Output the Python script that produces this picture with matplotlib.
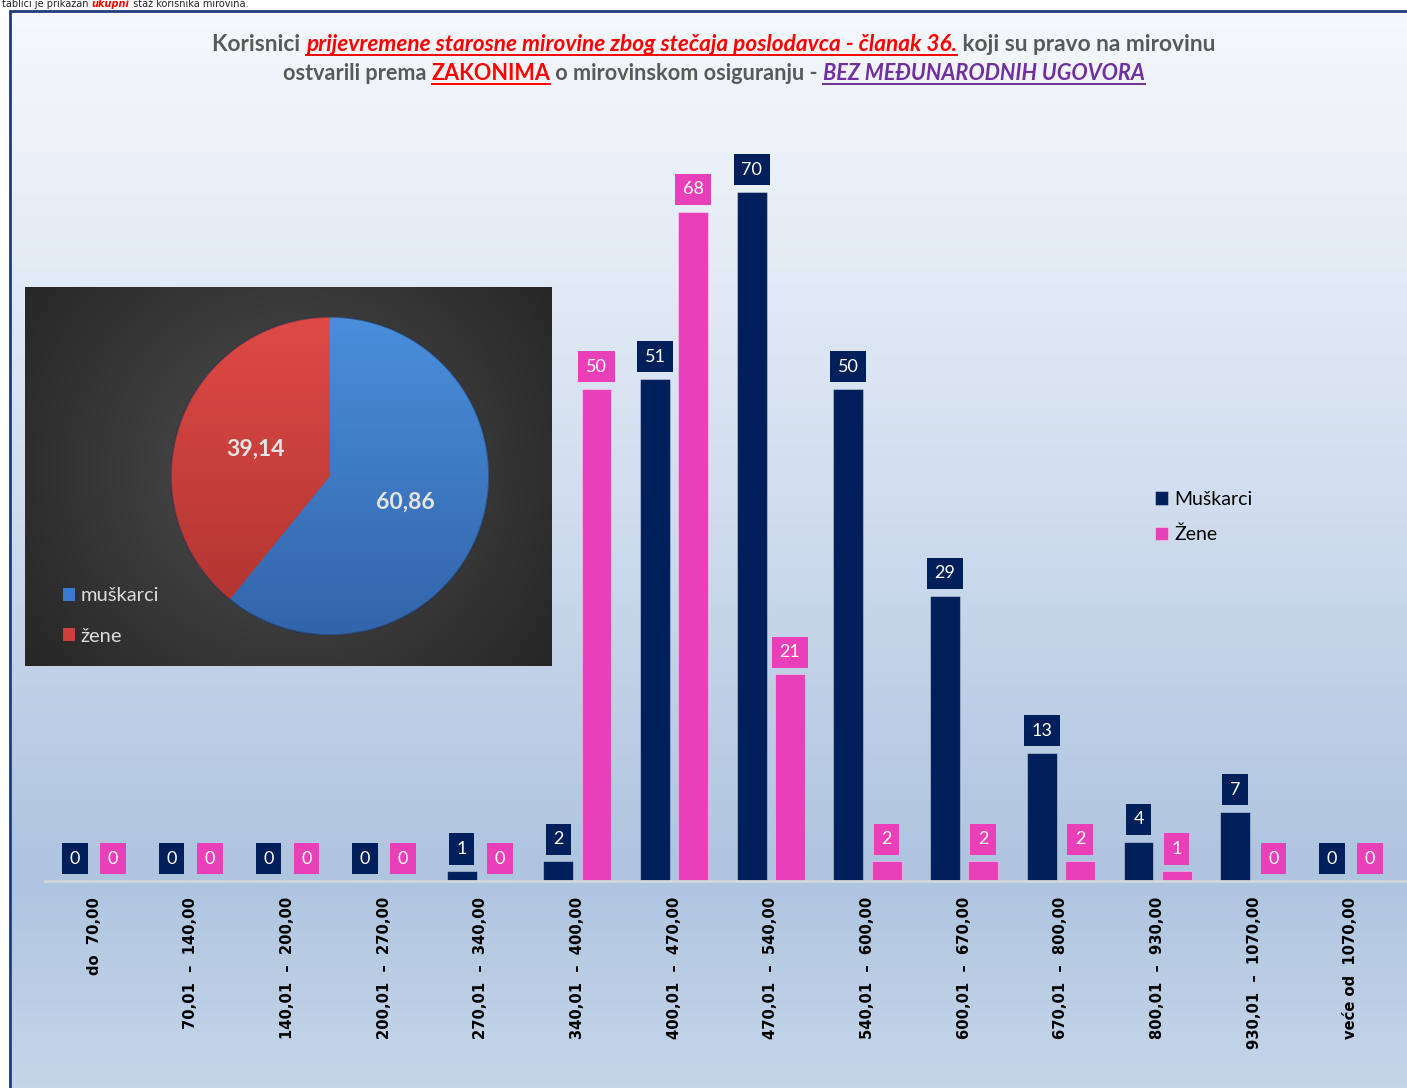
import numpy as np
import matplotlib
matplotlib.use('Agg')
import matplotlib.pyplot as plt
from matplotlib.patches import Rectangle, Circle
from matplotlib.colors import LinearSegmentedColormap
from matplotlib.lines import Line2D

# ---------------- data ----------------
categories = ["do  70,00", "70,01  –  140,00", "140,01  –  200,00", "200,01  –  270,00",
              "270,01  –  340,00", "340,01  –  400,00", "400,01  –  470,00", "470,01  –  540,00",
              "540,01  –  600,00", "600,01  –  670,00", "670,01  –  800,00", "800,01  –  930,00",
              "930,01  –  1070,00", "veće od  1070,00"]
muskarci = [0, 0, 0, 0, 1, 2, 51, 70, 50, 29, 13, 4, 7, 0]
zene = [0, 0, 0, 0, 0, 50, 68, 21, 2, 2, 2, 1, 0, 0]
series_names = ["Muškarci", "Žene"]
pie_labels = ["muškarci", "žene"]
pie_values = [60.86, 39.14]

W, H = 1407, 1088
fig = plt.figure(figsize=(W / 100, H / 100), dpi=100)
fig.patch.set_facecolor('white')


def fx(px):
    return px / W


def fy(py):
    return 1 - py / H


# ---------------- background panel ----------------
bg = fig.add_axes([fx(10), 0, 1 - fx(10), fy(11)], zorder=0)
bg_cmap = LinearSegmentedColormap.from_list(
    'bg', [(0, '#f5f8fc'), (0.12, '#edf2f9'), (0.45, '#d1deef'), (0.8, '#aec4df'), (1, '#c5d6ea')])
grad = np.linspace(0, 1, 256).reshape(-1, 1)
bg.imshow(grad, aspect='auto', cmap=bg_cmap, extent=[0, 1, 0, 1], origin='upper')
bg.set_axis_off()
fig.add_artist(Rectangle((fx(10), -0.1), 2, fy(11) + 0.1, transform=fig.transFigure,
                         fill=False, edgecolor='#1f3d7a', lw=2, zorder=1))

# ---------------- bar chart ----------------
ax = fig.add_axes([fx(45), fy(881), fx(1407) - fx(45), (881 - 93.6) / H], zorder=2)
ax.set_xlim(-0.507, 13.58)
ax.set_ylim(0, 80)
ax.patch.set_alpha(0)
x = np.arange(len(categories))
c_m, c_z = '#001f5b', '#e940b9'
b1 = ax.bar(x - 0.197, muskarci, 0.31, color=c_m, edgecolor=(1, 1, 1, 0.35), lw=0.8)
b2 = ax.bar(x + 0.197, zene, 0.31, color=c_z, edgecolor=(1, 1, 1, 0.35), lw=0.8)
for s in ['top', 'left', 'right']:
    ax.spines[s].set_visible(False)
ax.spines['bottom'].set_color('#d3d7de')
ax.spines['bottom'].set_linewidth(2)
ax.set_yticks([])
ax.set_xticks(x)
ax.set_xticklabels(categories, rotation=90, fontweight='bold', fontsize=10.6,
                   family='DejaVu Sans', color='black')
ax.tick_params(axis='x', length=0, pad=11.5)

for bars, vals, col in [(b1, muskarci, c_m), (b2, zene, c_z)]:
    for rect, v in zip(bars, vals):
        ax.annotate(str(v), (rect.get_x() + rect.get_width() / 2, v), xytext=(0, 16),
                    textcoords='offset points', ha='center', va='center', color='white',
                    fontsize=13, family='Lato',
                    bbox=dict(boxstyle='square,pad=0.42', fc=col, ec='none'))

ax.legend([b1, b2], series_names, loc='center left', bbox_to_anchor=(fx(1145), fy(517)),
          bbox_transform=fig.transFigure, frameon=False, prop={'family': 'Lato', 'size': 14},
          handlelength=0.7, handleheight=0.7, handletextpad=0.3, labelspacing=0.95, borderpad=0)

# ---------------- pie inset ----------------
pw, ph = 552 - 25, 666 - 287
panel = fig.add_axes([fx(25), fy(666), pw / W, ph / H], zorder=3)
yy, xx = np.mgrid[0:ph, 0:pw]
r = np.sqrt((xx - 0.5 * pw) ** 2 + (yy - 0.48 * ph) ** 2) / 330
r = np.clip(r, 0, 1)
panel_cmap = LinearSegmentedColormap.from_list('pn', ['#505050', '#3a3a3a', '#262626'])
panel.imshow(r, cmap=panel_cmap, aspect='auto', extent=[0, 1, 0, 1], origin='upper')
panel.set_xticks([])
panel.set_yticks([])
for s in panel.spines.values():
    s.set_visible(False)

pax = fig.add_axes([fx(171), fy(635), 318 / W, 318 / H], zorder=4)
pax.patch.set_alpha(0)
wedges, texts, autotexts = pax.pie(
    pie_values, colors=['#3b7bcd', '#cc3f3c'], startangle=90, counterclock=False,
    autopct=lambda p: f'{p:.2f}'.replace('.', ','), pctdistance=0.5,
    textprops=dict(color='#e4e4e4', fontsize=16.5, fontweight='bold', family='Lato'))
for w, (ct, cb) in zip(wedges, [('#4a8fdc', '#3264aa'), ('#df4a46', '#ad3330')]):
    cm = LinearSegmentedColormap.from_list('', [ct, cb])
    im = pax.imshow(grad, cmap=cm, extent=[-1, 1, -1, 1], origin='upper', aspect='auto', zorder=1.5)
    im.set_clip_path(w)
pax.add_patch(Circle((0, 0), 1, fill=False, ec='#1d2f4f', lw=1.2, alpha=0.5, zorder=2))
for t in autotexts:
    t.set_zorder(5)
pax.set_xlim(-1.0, 1.0)
pax.set_ylim(-1.0, 1.0)
pax.set_aspect('equal')
pax.axis('off')

panel.legend(wedges, pie_labels, loc='center left', bbox_to_anchor=(fx(53), fy(616)),
             bbox_transform=fig.transFigure, frameon=False, labelcolor='#dcdcdc',
             prop={'family': 'Lato', 'size': 14.5}, handlelength=0.6, handleheight=0.6,
             handletextpad=0.25, labelspacing=1.15, borderpad=0)

# ---------------- composite texts ----------------
renderer = fig.canvas.get_renderer()


def seg_width(s, **kw):
    t1 = fig.text(0, 0, '|' + s + '|', **kw)
    t2 = fig.text(0, 0, '||', **kw)
    w = t1.get_window_extent(renderer).width - t2.get_window_extent(renderer).width
    t1.remove()
    t2.remove()
    return w


def line_width(segments, size, family, weight='bold'):
    return sum(seg_width(s, fontsize=size, fontweight=wt or weight, fontstyle=st, family=family)
               for s, c, st, u, wt in segments)


def draw_segments(segments, y_px, size, family, cx=None, x0=None, weight='bold'):
    widths = [seg_width(s, fontsize=size, fontweight=wt or weight, fontstyle=st, family=family)
              for s, c, st, u, wt in segments]
    total = sum(widths)
    xpos = cx - total / 2 if cx is not None else x0
    for (s, color, style, ul, wt), w in zip(segments, widths):
        fig.text(fx(xpos), fy(y_px), s, color=color, fontsize=size, fontweight=wt or weight,
                 fontstyle=style, family=family, va='baseline', ha='left', zorder=10)
        if ul:
            fig.add_artist(Line2D([fx(xpos), fx(xpos + w)], [fy(y_px + 3.5)] * 2, color=color,
                                  lw=1.4, transform=fig.transFigure, zorder=10))
        xpos += w
    return total


gray, red, purple = '#595959', '#ff0000', '#7030a0'
line1 = [("Korisnici ", gray, 'normal', False, None),
         ("prijevremene starosne mirovine zbog stečaja poslodavca - članak 36.", red, 'italic', True, None),
         (" koji su pravo na mirovinu", gray, 'normal', False, None)]
line2 = [("ostvarili prema ", gray, 'normal', False, None),
         ("ZAKONIMA", red, 'normal', True, None),
         (" o mirovinskom osiguranju - ", gray, 'normal', False, None),
         ("BEZ MEĐUNARODNIH UGOVORA", purple, 'italic', True, None)]

base = 14
size1 = base * 1008 / line_width(line1, base, 'Lato')
size2 = min(size1, base * 864 / line_width(line2, base, 'Lato'))
draw_segments(line1, 51, size1, 'Lato', cx=714)
draw_segments(line2, 80, size2, 'Lato', cx=714)

top = [("tablici je prikazan ", '#222222', 'normal', False, 'normal'),
       ("ukupni", red, 'italic', False, 'bold'),
       (" staž korisnika mirovina.", '#222222', 'normal', False, 'normal')]
draw_segments(top, 7, 7, 'DejaVu Sans', x0=2)

fig.savefig('out.png', dpi=100)
